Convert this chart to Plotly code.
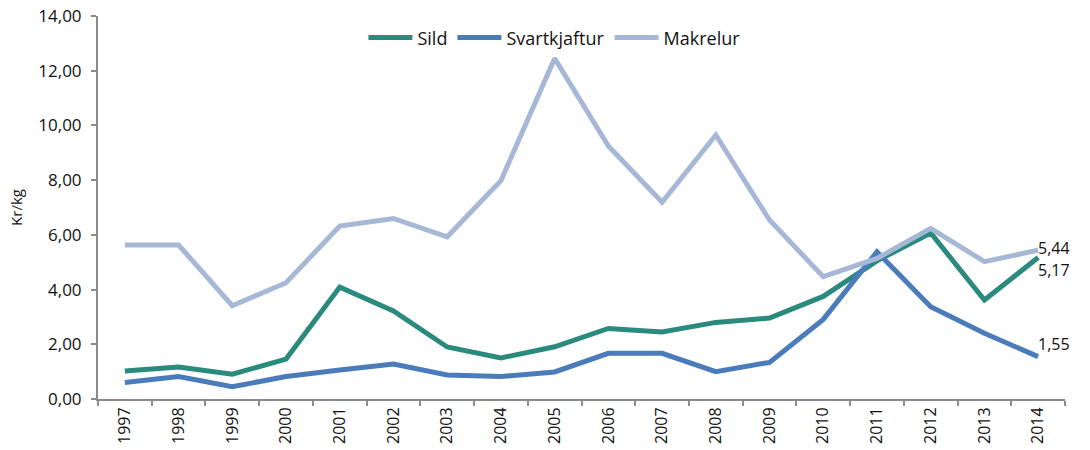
import plotly.graph_objects as go

years = [str(y) for y in range(1997, 2015)]
sild = [1.02, 1.17, 0.91, 1.46, 4.09, 3.22, 1.90, 1.50, 1.91, 2.58, 2.45, 2.80, 2.96, 3.75, 5.05, 6.07, 3.62, 5.17]
svartkjaftur = [0.60, 0.82, 0.45, 0.82, 1.06, 1.28, 0.88, 0.82, 0.99, 1.67, 1.67, 1.00, 1.34, 2.91, 5.38, 3.37, 2.40, 1.55]
makrelur = [5.63, 5.63, 3.41, 4.25, 6.32, 6.60, 5.93, 7.98, 12.45, 9.25, 7.19, 9.65, 6.54, 4.47, 5.14, 6.24, 5.02, 5.44]

names = ["Sild", "Svartkjaftur", "Makrelur"]
colors = ["#2a8a7e", "#4a7bbb", "#a7b8d6"]
series = [sild, svartkjaftur, makrelur]

FONT = "Open Sans, Noto Sans, sans-serif"

fig = go.Figure()
for name, col, vals in zip(names, colors, series):
    fig.add_trace(go.Scatter(x=years, y=vals, name=name, mode="lines",
                             line=dict(color=col, width=5)))

# end labels (x given as category index of the last year)
last = len(years) - 1
end_labels = [(makrelur[-1], 2), (sild[-1], -12), (svartkjaftur[-1], 13)]
for val, ys in end_labels:
    fig.add_annotation(x=last, y=val, xref="x", yref="y",
                       text=f"{val:.2f}".replace(".", ","),
                       showarrow=False, xanchor="left", yanchor="middle",
                       xshift=-2, yshift=ys, font=dict(size=16, color="#111", family=FONT))

fig.update_layout(
    width=1090, height=450,
    margin=dict(l=98, r=25, t=16, b=51, autoexpand=False),
    paper_bgcolor="white", plot_bgcolor="white",
    separators=", ",
    font=dict(family=FONT, size=16, color="#111"),
    showlegend=True,
    legend=dict(orientation="h", x=0.472, xanchor="center", y=0.943, yanchor="middle",
                font=dict(size=18), bgcolor="rgba(0,0,0,0)", itemwidth=44),
    xaxis=dict(type="category", range=[-0.5, 17.5], showline=True, linecolor="#8c8c8c",
               linewidth=2, ticks="outside", tickson="boundaries", ticklen=5,
               tickcolor="#8c8c8c", tickwidth=2, tickangle=-90, showgrid=False,
               automargin=False, tickfont=dict(size=16)),
    yaxis=dict(range=[0, 14], dtick=2, tickformat=".2f", showline=True, linecolor="#8c8c8c",
               linewidth=2, ticks="outside", ticklen=5, tickcolor="#8c8c8c", tickwidth=2,
               showgrid=False, zeroline=False, automargin=False, ticklabelstandoff=6,
               title=dict(text="Kr/kg", font=dict(size=15), standoff=12),
               tickfont=dict(size=17)),
)

fig.write_html("out.html", config={"displayModeBar": False},
               post_script="document.body.style.margin='0';document.body.style.overflow='hidden';")
